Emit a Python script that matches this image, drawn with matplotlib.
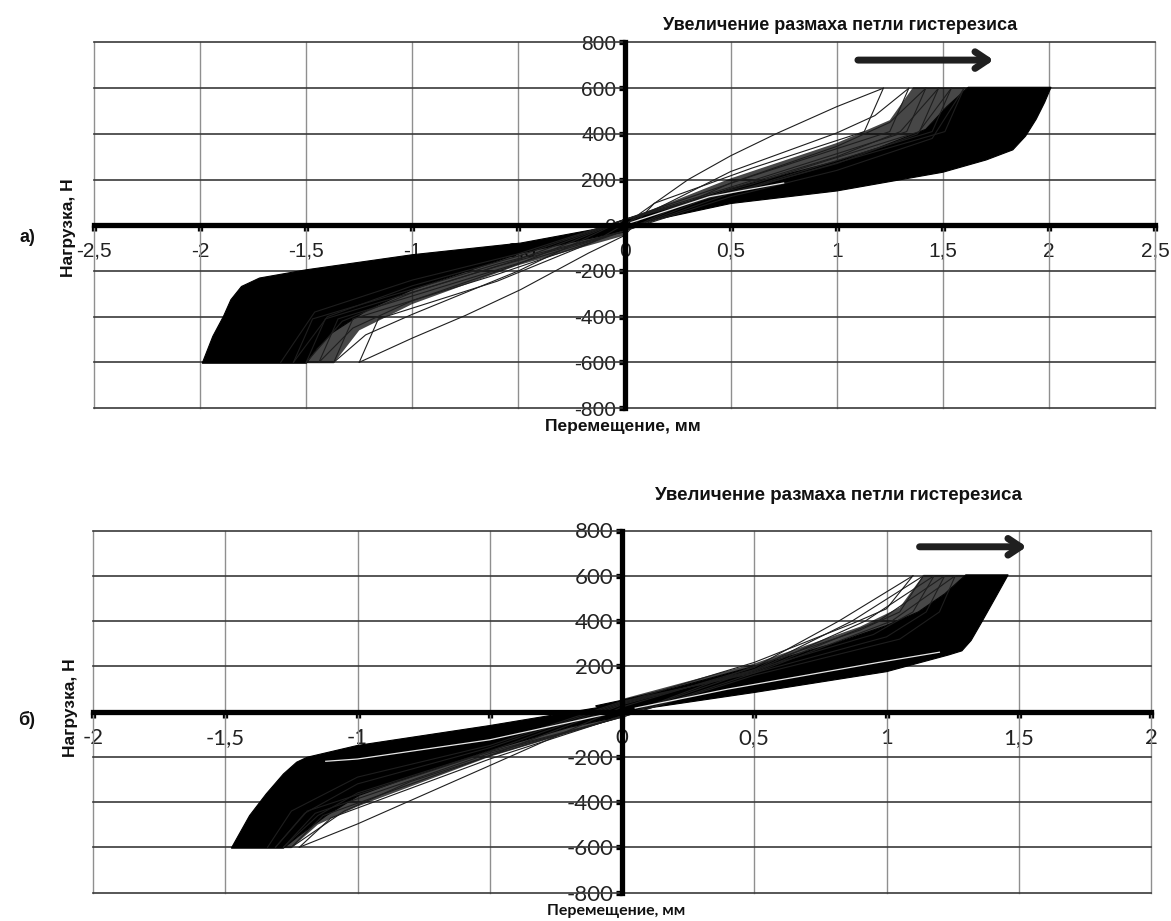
import matplotlib
matplotlib.use('Agg')
import matplotlib.pyplot as plt

plt.rcParams['axes.unicode_minus'] = False

# ---------- данные ----------
y_ticks = [-800, -600, -400, -200, 0, 200, 400, 600, 800]
y_labels = ['-800', '-600', '-400', '-200', '0', '200', '400', '600', '800']

a_x_ticks = [-2.5, -2, -1.5, -1, -0.5, 0, 0.5, 1, 1.5, 2, 2.5]
a_x_labels = ['-2,5', '-2', '-1,5', '-1', '-0,5', '0', '0,5', '1', '1,5', '2', '2,5']
b_x_ticks = [-2, -1.5, -1, -0.5, 0, 0.5, 1, 1.5, 2]
b_x_labels = ['-2', '-1,5', '-1', '-0,5', '0', '0,5', '1', '1,5', '2']

# а) плотная (залитая) часть петель
a_pos_band_x = [-0.05, 0.50, 1.00, 1.50, 1.705, 1.83, 1.89, 1.94, 1.98, 2.01,
                1.62, 1.52, 1.42, 1.20, 1.00, 0.50, 0.10, 0.00]
a_pos_band_y = [-15, 95, 150, 232, 286, 330, 390, 464, 538, 604,
                604, 520, 420, 340, 280, 160, 45, 25]
a_neg_band_x = [0.05, -0.49, -1.00, -1.50, -1.72, -1.805, -1.855, -1.89, -1.94, -1.99,
                -1.50, -1.45, -1.38, -1.21, -1.00, -0.49, -0.10, 0.00]
a_neg_band_y = [15, -78, -129, -195, -231, -268, -326, -399, -486, -604,
                -604, -540, -472, -370, -282, -122, -45, -30]
# а) зона частых линий (штриховка между залитой частью и первыми циклами)
a_pos_fan_x = [0.00, 0.10, 0.50, 1.00, 1.20, 1.42, 1.52, 1.62, 1.36, 1.25, 1.00, 0.50, 0.05]
a_pos_fan_y = [25, 45, 160, 280, 340, 420, 520, 604, 604, 460, 360, 205, 40]
a_neg_fan_x = [0.00, -0.10, -0.49, -1.00, -1.21, -1.38, -1.45, -1.50, -1.37, -1.25, -1.00, -0.50, 0.00]
a_neg_fan_y = [-30, -45, -122, -282, -370, -472, -540, -604, -604, -460, -345, -175, -45]
a_gap_x = [[0.03, 0.40, 0.75]]
a_gap_y = [[12, 125, 185]]

# а) отдельные ветви первых циклов
a_thin_x = [
    [0.00, 0.08, 0.30, 0.50, 0.72, 1.00, 1.22],
    [1.22, 1.13, 0.60, 0.14, 0.00, -0.17, -0.49, -0.75, -1.00, -1.25],
    [-1.25, -1.16, -0.60, -0.14, 0.00, 0.20, 0.50, 1.00, 1.18, 1.34],
    [1.34, 1.25, 0.60, 0.00, -0.50, -1.00, -1.22, -1.37],
    [-1.37, -1.28, -0.60, 0.00, 0.50, 1.00, 1.25, 1.42],
    [1.42, 1.33, 0.60, 0.00, -0.50, -1.00, -1.28, -1.44],
    [-1.44, -1.35, -0.60, 0.00, 0.50, 1.00, 1.30, 1.48],
    [1.48, 1.39, 0.60, 0.00, -0.50, -1.00, -1.33, -1.50],
    [-1.50, -1.41, -0.60, 0.00, 0.50, 1.00, 1.38, 1.54],
    [1.54, 1.45, 0.60, 0.00, -0.50, -1.00, -1.40, -1.56],
    [-1.56, -1.47, -0.60, 0.00, 0.50, 1.00, 1.45, 1.60],
    [1.60, 1.51, 0.60, 0.00, -0.50, -1.00, -1.46, -1.62],
]
a_thin_y = [
    [0, 56, 200, 304, 403, 519, 600],
    [600, 410, 250, 96, -45, -122, -282, -395, -494, -600],
    [-600, -410, -245, -70, 5, 95, 235, 404, 480, 600],
    [600, 410, 215, 25, -200, -390, -480, -600],
    [-600, -410, -215, -25, 185, 345, 450, 600],
    [600, 410, 195, 25, -170, -330, -450, -600],
    [-600, -410, -195, -25, 160, 300, 410, 600],
    [600, 410, 180, 25, -150, -295, -420, -600],
    [-600, -410, -180, -25, 140, 270, 400, 600],
    [600, 410, 170, 25, -135, -265, -400, -600],
    [-600, -410, -170, -25, 125, 240, 380, 600],
    [600, 410, 165, 25, -125, -240, -380, -600],
]

# б) плотная часть петель
b_pos_band_x = [-0.05, 0.116, 0.50, 1.00, 1.235, 1.285, 1.32, 1.36, 1.41, 1.46,
                1.30, 1.22, 1.12, 1.00, 0.80, 0.50, 0.20, 0.00, -0.10]
b_pos_band_y = [-15, 18, 84, 176, 250, 268, 314, 395, 499, 604,
                604, 520, 440, 380, 300, 200, 105, 50, 25]
b_neg_band_x = [0.00, -0.50, -1.00, -1.19, -1.23, -1.28, -1.345, -1.408, -1.477,
                -1.28, -1.22, -1.118, -0.995, -0.84, -0.50, -0.20, 0.00]
b_neg_band_y = [35, -62, -150, -202, -224, -276, -364, -460, -604,
                -604, -548, -460, -371, -305, -172, -70, -20]
b_pos_fan_x = [0.00, 0.20, 0.50, 0.80, 1.00, 1.12, 1.22, 1.30, 1.14, 1.05, 0.90, 0.50, 0.00]
b_pos_fan_y = [50, 105, 200, 300, 380, 440, 520, 604, 604, 460, 375, 212, 55]
b_neg_fan_x = [0.00, -0.20, -0.50, -0.84, -0.995, -1.118, -1.22, -1.28, -1.25, -1.15, -1.00, -0.50, 0.00]
b_neg_fan_y = [-20, -70, -172, -305, -371, -460, -548, -604, -604, -500, -420, -200, -25]
b_gap_x = [[0.05, 0.40, 0.97, 1.20], [-0.02, -0.50, -1.00, -1.12]]
b_gap_y = [[15, 99, 217, 262], [-2, -125, -210, -220]]

b_thin_x = [
    [0.00, 0.50, 0.87, 1.00, 1.10],
    [1.10, 0.82, 0.50, 0.00, -0.50, -1.00, -1.22],
    [-1.22, -1.10, -0.50, 0.00, 0.50, 0.90, 1.05, 1.14],
    [1.14, 0.87, 0.50, 0.00, -0.50, -0.80, -1.05, -1.25],
    [-1.25, -1.13, -0.50, 0.00, 0.50, 0.95, 1.10, 1.18],
    [1.18, 0.92, 0.50, 0.00, -0.50, -1.00, -1.15, -1.28],
    [-1.28, -1.16, -0.50, 0.00, 0.50, 1.00, 1.15, 1.22],
    [1.22, 0.97, 0.50, 0.00, -0.50, -1.00, -1.20, -1.31],
    [-1.31, -1.19, -0.50, 0.00, 0.50, 1.05, 1.20, 1.26],
    [1.26, 1.02, 0.50, 0.00, -0.50, -1.00, -1.25, -1.34],
]
b_thin_y = [
    [40, 217, 388, 454, 600],
    [600, 400, 195, 20, -239, -497, -600],
    [-600, -470, -210, -20, 200, 360, 440, 600],
    [600, 400, 185, 30, -195, -310, -440, -600],
    [-600, -460, -195, -20, 185, 340, 440, 600],
    [600, 400, 180, 35, -175, -360, -460, -600],
    [-600, -450, -185, -25, 170, 330, 440, 600],
    [600, 400, 175, 40, -160, -320, -450, -600],
    [-600, -440, -178, -25, 160, 320, 440, 600],
    [600, 400, 170, 45, -150, -290, -440, -600],
]

title_text = 'Увеличение размаха петли гистерезиса'
xlabel_text = 'Перемещение, мм'
ylabel_text = 'Нагрузка, Н'

W, H = 1171, 921


def fx(px):
    return px / W


def fy(py):
    return 1 - py / H


def draw_panel(ax, x_ticks, x_labels, bands, fans, gaps, thin, tick_font, tick_size, arrow):
    ax.set_xlim(x_ticks[0], x_ticks[-1])
    ax.set_ylim(-800, 800)
    ax.set_axisbelow(True)

    # сетка
    for xv in x_ticks:
        ax.axvline(xv, color='#8f8f8f', lw=1.0, zorder=0.6, clip_on=False)
    for yv in y_ticks:
        ax.axhline(yv, color='#3a3a3a', lw=1.2, zorder=0.6, clip_on=False)

    # штриховка из множества циклов -> полупрозрачная заливка
    for fxs, fys in fans:
        ax.fill(fxs, fys, color='black', alpha=0.72, lw=0, zorder=1.8)
    for bx, by in bands:
        ax.fill(bx, by, color='black', lw=0.8, zorder=2)
    for tx, ty in zip(*thin):
        ax.plot(tx, ty, color='#1e1e1e', lw=0.8, zorder=2)
    for gx, gy in zip(*gaps):
        ax.plot(gx, gy, color='white', lw=0.9, alpha=0.9, zorder=2.2)

    # оси через ноль
    for side in ('top', 'right'):
        ax.spines[side].set_visible(False)
    for side in ('left', 'bottom'):
        ax.spines[side].set_position(('data', 0))
        ax.spines[side].set_linewidth(3.8)
        ax.spines[side].set_color('black')
        ax.spines[side].set_zorder(3)

    ax.set_xticks(x_ticks)
    ax.set_xticklabels(x_labels)
    ax.set_yticks(y_ticks)
    ax.set_yticklabels(y_labels)
    ax.tick_params(direction='out', length=4, width=3.8, color='black',
                   labelsize=tick_size, labelcolor='#222222')
    ax.tick_params(axis='x', pad=8)
    ax.tick_params(axis='y', pad=2)
    for lab in ax.get_xticklabels() + ax.get_yticklabels():
        lab.set_family(tick_font)

    ax.annotate('', xy=arrow[1], xytext=arrow[0],
                arrowprops=dict(arrowstyle='->,head_length=0.9,head_width=0.6',
                                lw=5, color='#1f1f1f', shrinkA=0, shrinkB=0))


fig = plt.figure(figsize=(W / 100, H / 100), dpi=100)
fig.patch.set_facecolor('white')

ax_a = fig.add_axes([fx(94), fy(408), fx(1155 - 94), (408 - 42.5) / H])
draw_panel(ax_a, a_x_ticks, a_x_labels,
           [(a_pos_band_x, a_pos_band_y), (a_neg_band_x, a_neg_band_y)],
           [(a_pos_fan_x, a_pos_fan_y), (a_neg_fan_x, a_neg_fan_y)],
           (a_gap_x, a_gap_y), (a_thin_x, a_thin_y),
           'Liberation Sans', 15, ((1.10, 723), (1.74, 723)))

ax_b = fig.add_axes([fx(93), fy(892.5), fx(1151 - 93), (892.5 - 530.5) / H])
draw_panel(ax_b, b_x_ticks, b_x_labels,
           [(b_pos_band_x, b_pos_band_y), (b_neg_band_x, b_neg_band_y)],
           [(b_pos_fan_x, b_pos_fan_y), (b_neg_fan_x, b_neg_fan_y)],
           (b_gap_x, b_gap_y), (b_thin_x, b_thin_y),
           'Lato', 16, ((1.125, 728), (1.53, 728)))

bold_ar = dict(family='Liberation Sans', weight='bold', color='#111111')

# подписи верхнего графика
fig.text(fx(840), fy(25), title_text, ha='center', va='center', size=13, **bold_ar)
fig.text(fx(623), fy(426), xlabel_text, ha='center', va='center', size=12.5, **bold_ar)
fig.text(fx(69), fy(228), ylabel_text, ha='center', va='center', size=12.5,
         rotation=90, **bold_ar)
fig.text(fx(27), fy(238), 'а)', ha='center', va='center', size=13, **bold_ar)

# подписи нижнего графика
fig.text(fx(838), fy(495), title_text, ha='center', va='center', size=13.5, **bold_ar)
fig.text(fx(616), fy(911), xlabel_text, ha='center', va='center', size=11.5,
         family='Lato', weight='bold', color='#111111')
fig.text(fx(71), fy(708), ylabel_text, ha='center', va='center', size=12.5,
         rotation=90, **bold_ar)
fig.text(fx(27), fy(720), 'б)', ha='center', va='center', size=13, **bold_ar)

fig.savefig('out.png', dpi=100, facecolor='white')
